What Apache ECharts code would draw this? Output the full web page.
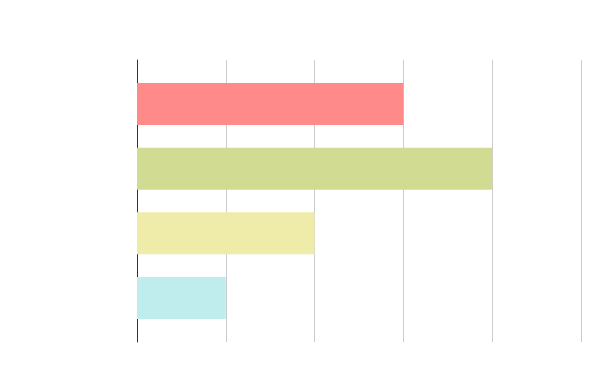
<!DOCTYPE html>
<html><head><meta charset="utf-8">
<script src="https://cdn.jsdelivr.net/npm/echarts@6/dist/echarts.min.js"></script>
<style>html,body{margin:0;padding:0;background:#fff}#c{width:600px;height:371px}</style>
</head><body><div id="c"></div>
<script>
var categories = [''];
var seriesNames = ['A', 'B', 'C', 'D'];
var seriesValues = [[3], [4], [2], [1]];
var seriesColors = ['#ff8a8a', '#d1dc92', '#efecaa', '#bfeded'];
var xTicks = [0, 1, 2, 3, 4, 5];

var chart = echarts.init(document.getElementById('c'), null, {renderer: 'canvas'});
chart.setOption({
  animation: false,
  grid: {left: 137, right: 19, top: 60, bottom: 29},
  xAxis: {type: 'value', min: xTicks[0], max: xTicks[xTicks.length - 1], interval: 1,
    axisLine: {show: false}, axisTick: {show: false}, axisLabel: {show: false},
    splitLine: {show: true, lineStyle: {color: '#cccccc', width: 1}}},
  yAxis: {type: 'category', data: categories, inverse: true,
    axisLine: {show: true, lineStyle: {color: '#333333', width: 1}},
    axisTick: {show: false}, axisLabel: {show: false}, splitLine: {show: false}},
  series: seriesNames.map(function (n, i) {
    return {name: n, type: 'bar', data: seriesValues[i], barWidth: 42, barGap: '54%',
      itemStyle: {color: seriesColors[i]}};
  })
});
</script></body></html>
